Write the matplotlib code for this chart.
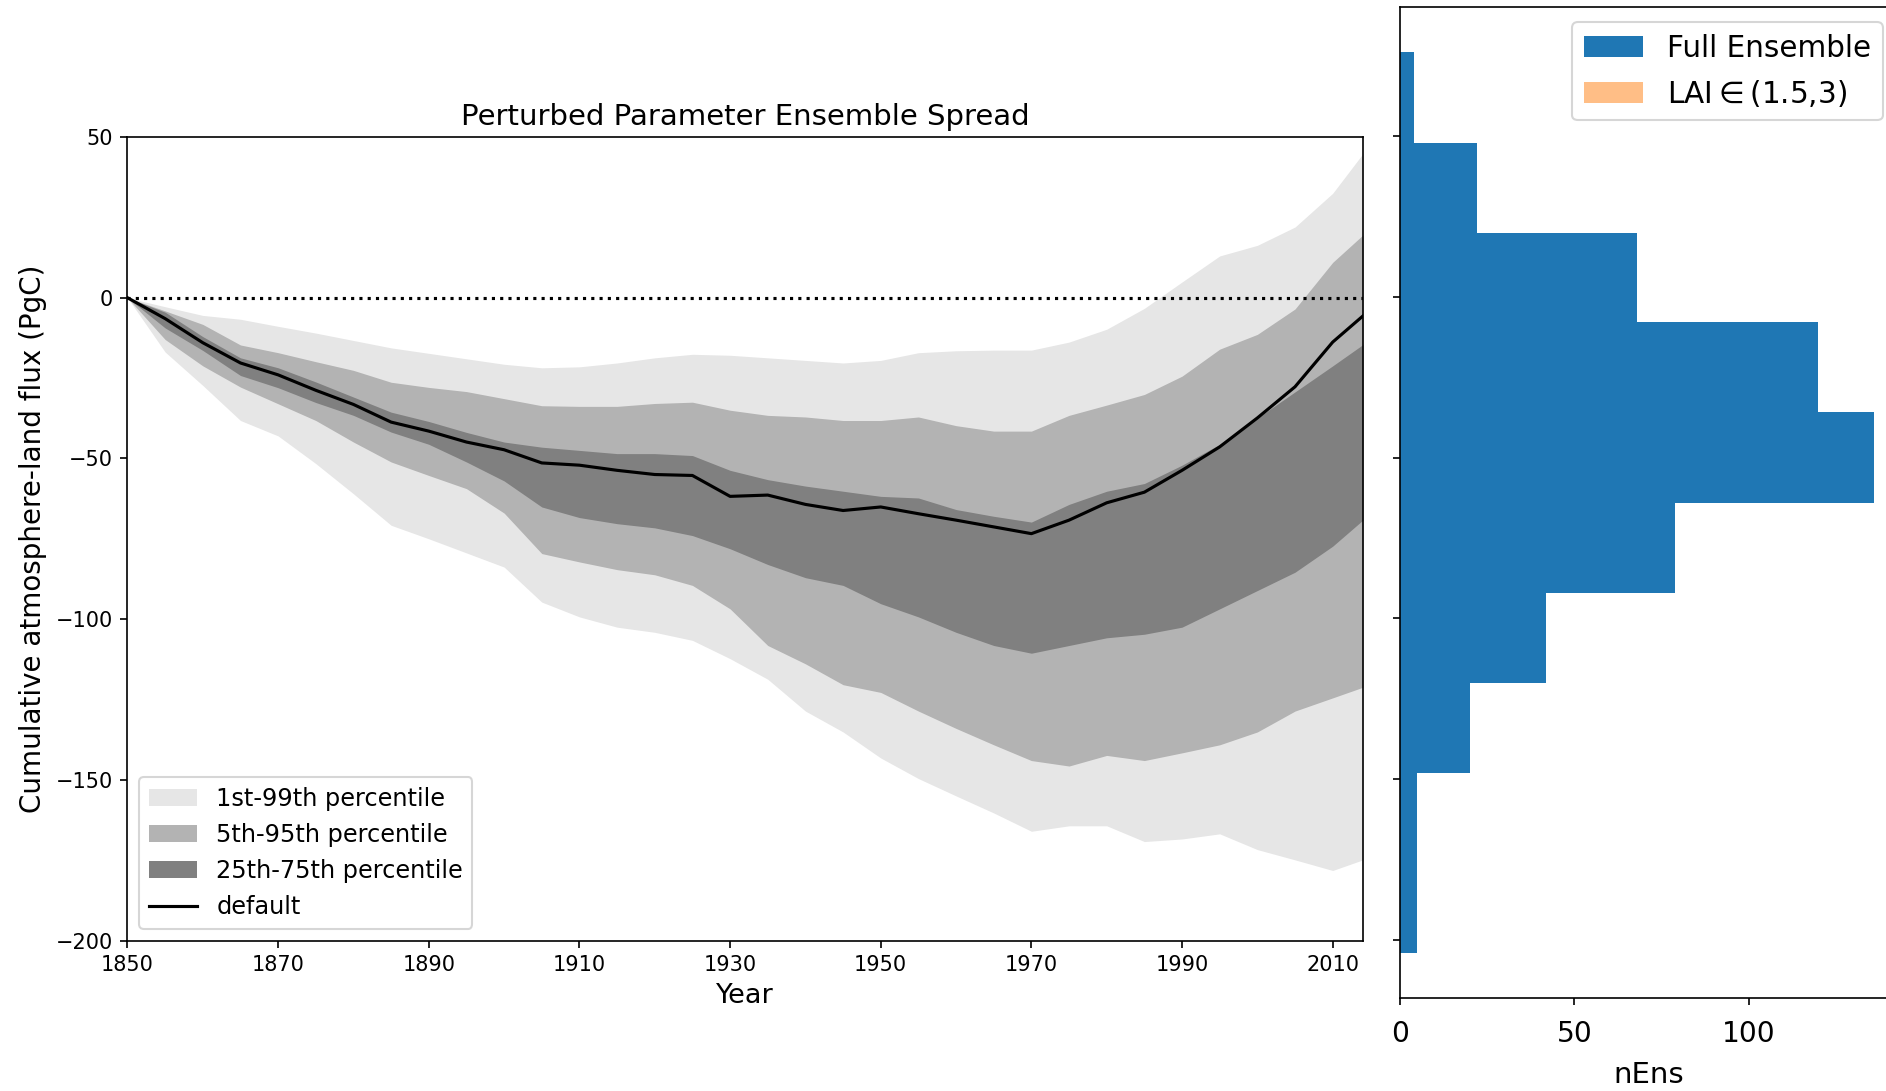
import matplotlib
matplotlib.use('Agg')
import matplotlib.pyplot as plt

# tahun (5 tahunan) dan persentil ensemble
years = [1850, 1855, 1860, 1865, 1870, 1875, 1880, 1885, 1890, 1895, 1900, 1905,
         1910, 1915, 1920, 1925, 1930, 1935, 1940, 1945, 1950, 1955, 1960,
         1965, 1970, 1975, 1980, 1985, 1990, 1995, 2000, 2005, 2010, 2014]

p99 = [0, -2.8, -5.5, -6.7, -8.9, -11.0, -13.3, -15.6, -17.3, -19.0, -20.7, -21.8,
       -21.5, -20.3, -18.7, -17.6, -17.9, -18.7, -19.5, -20.3, -19.5, -17.1, -16.5,
       -16.3, -16.3, -13.8, -9.8, -3.3, 4.9, 13.0, 16.3, 22.0, 32.5, 44.8]
p95 = [0, -4.1, -8.3, -14.7, -17.1, -19.9, -22.6, -26.3, -27.9, -29.2, -31.4, -33.6,
       -33.8, -33.8, -32.9, -32.5, -35.0, -36.6, -37.1, -38.2, -38.2, -37.1, -39.8,
       -41.5, -41.5, -36.6, -33.4, -30.1, -24.4, -16.0, -11.4, -3.5, 11.0, 19.5]
p75 = [0, -4.5, -12.1, -18.7, -21.8, -26.2, -30.9, -35.6, -38.5, -41.9, -44.9, -46.5,
       -47.5, -48.5, -48.5, -49.1, -53.7, -56.6, -58.6, -60.2, -61.8, -62.3, -65.9,
       -68.0, -69.8, -64.3, -60.2, -57.8, -52.1, -45.6, -37.4, -29.3, -21.2, -14.6]
default = [0, -6.5, -14.0, -20.3, -24.0, -28.8, -33.2, -38.7, -41.5, -44.9, -47.3, -51.4,
           -52.1, -53.7, -55.0, -55.3, -61.8, -61.4, -64.3, -66.2, -65.1, -67.2, -69.2,
           -71.3, -73.4, -69.2, -63.8, -60.5, -53.7, -46.4, -37.4, -27.7, -13.8, -5.7]
p25 = [0, -9.4, -16.4, -24.2, -28.0, -32.6, -36.6, -41.8, -45.6, -51.1, -57.0, -65.1,
       -68.4, -70.3, -71.6, -74.0, -78.1, -83.0, -87.1, -89.5, -95.2, -99.3, -104.1,
       -108.2, -110.6, -108.2, -105.8, -104.7, -102.5, -96.8, -91.1, -85.4, -77.3, -69.2]
p5 = [0, -13.0, -21.2, -27.8, -33.0, -38.2, -44.9, -51.1, -55.3, -59.4, -67.0, -79.6,
      -82.2, -84.6, -86.2, -89.5, -96.8, -108.2, -113.9, -120.4, -122.8, -128.6, -134.0,
      -139.1, -144.0, -145.7, -142.4, -144.0, -141.6, -139.1, -135.1, -128.6, -124.5, -121.2]
p1 = [0, -16.9, -27.3, -38.2, -43.0, -51.6, -61.0, -70.8, -75.0, -79.4, -83.8, -94.7,
      -99.3, -102.5, -104.1, -106.6, -112.3, -118.7, -128.6, -135.1, -143.2, -149.6, -155.0,
      -160.3, -166.0, -164.3, -164.3, -169.2, -168.4, -166.8, -171.7, -174.9, -178.2, -174.9]

# histogram jumlah anggota ensemble
hist_edges = [-204.2, -176.2, -148.1, -120.1, -92.0, -64.0, -35.9, -7.9, 20.1, 48.1, 76.2]
hist_counts = [5, 5, 20, 42, 79, 136, 120, 68, 22, 4]

fig = plt.figure(figsize=(1886 / 150, 1091 / 150), dpi=150)
ax = fig.add_axes([0.0676, 0.1379, 0.655, 0.7365])
axh = fig.add_axes([0.7423, 0.085, 0.264, 0.9084])

# panel kiri: sebaran ensemble
ax.fill_between(years, p1, p99, color='0.9', lw=0, label='1st-99th percentile')
ax.fill_between(years, p5, p95, color='0.7', lw=0, label='5th-95th percentile')
ax.fill_between(years, p25, p75, color='0.5', lw=0, label='25th-75th percentile')
ax.plot(years, default, color='k', lw=1.5, label='default')
ax.axhline(0, color='k', linestyle=':', lw=1.5)

ax.set_xlim(1850, 2014)
ax.set_ylim(-200, 50)
ax.set_xticks(range(1850, 2011, 20))
ax.set_yticks(range(-200, 51, 50))
ax.tick_params(labelsize=10)
ax.set_title('Perturbed Parameter Ensemble Spread', fontsize=14)
ax.set_xlabel('Year', fontsize=13)
ax.set_ylabel('Cumulative atmosphere-land flux (PgC)', fontsize=13.3)
ax.legend(loc='lower left', fontsize=11.5)

# panel kanan: histogram
axh.hist(hist_edges[:-1], bins=hist_edges, weights=hist_counts,
         orientation='horizontal', color='tab:blue', label='Full Ensemble')
axh.hist([], bins=hist_edges, orientation='horizontal',
         color='tab:orange', alpha=0.5, label='LAI$\\in$(1.5,3)')
axh.set_yticks(range(-200, 51, 50))
axh.set_yticklabels([])
axh.set_xticks([0, 50, 100])
axh.tick_params(axis='x', labelsize=13.5, pad=7)
axh.set_xlabel('nEns', fontsize=14, labelpad=6)
axh.legend(loc='upper right', fontsize=14.2)

fig.savefig('out.png', dpi=150)
